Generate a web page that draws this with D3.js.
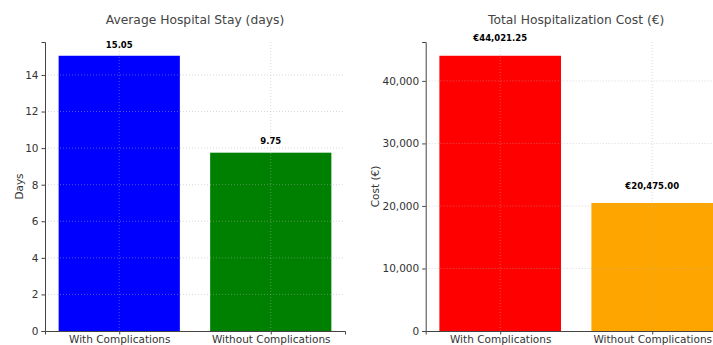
<!DOCTYPE html>
<html>
<head>
<meta charset="utf-8">
<script src="https://cdn.jsdelivr.net/npm/d3@7"></script>
<style>
  html, body { margin: 0; padding: 0; background: #fff; }
  svg { display: block; font-family: "DejaVu Sans", sans-serif; }
  svg text { font-family: "DejaVu Sans", sans-serif; }
  .tick text { fill: #333; }
</style>
</head>
<body>
<svg id="chart" width="713" height="345"></svg>
<script>
// Patient groups compared in both panels
const categories = ["With Complications", "Without Complications"];

// Average length of stay, days
const stayValues = [15.05, 9.75];
const stayColors = ["#0000ff", "#008000"];
const stayTicks = [0, 2, 4, 6, 8, 10, 12, 14];

// Total hospitalization cost, euros
const costValues = [44021.25, 20475.00];
const costColors = ["#ff0000", "#ffa500"];
const costTicks = [0, 10000, 20000, 30000, 40000];

const svg = d3.select("#chart");

function panel(opts) {
  const { left, width, top, bottom, values, colors, ticks, tickFmt, labelFmt,
          labelOffset, title, ylabel, ylabelX } = opts;
  const g = svg.append("g");

  // matplotlib-like margins: 5% on the value axis, bars of width 0.8
  const yMax = d3.max(values) * 1.05;
  const y = d3.scaleLinear().domain([0, yMax]).range([bottom, top]);
  const x = d3.scaleLinear().domain([-0.49, 1.49]).range([left, left + width]);
  const barW = x(0.4) - x(-0.4);

  // bars
  g.selectAll("rect.bar").data(values).join("rect")
    .attr("class", "bar")
    .attr("x", (d, i) => x(i) - barW / 2)
    .attr("width", barW)
    .attr("y", d => y(d))
    .attr("height", d => y(0) - y(d))
    .attr("fill", (d, i) => colors[i]);

  // dotted grid, drawn above the bars
  const grid = g.append("g").attr("stroke", "#b0b0b0").attr("stroke-opacity", 0.6)
    .attr("stroke-width", 0.8).attr("stroke-dasharray", "1,2");
  grid.selectAll("line.h").data(ticks.filter(t => t > 0)).join("line")
    .attr("x1", left).attr("x2", left + width)
    .attr("y1", d => y(d)).attr("y2", d => y(d));
  grid.selectAll("line.v").data(categories).join("line")
    .attr("x1", (d, i) => x(i)).attr("x2", (d, i) => x(i))
    .attr("y1", top).attr("y2", bottom);

  // y axis
  const yAxis = g.append("g").attr("transform", `translate(${left},0)`)
    .call(d3.axisLeft(y).tickValues(ticks).tickFormat(tickFmt).tickSizeOuter(0).tickSize(3.5).tickPadding(3))
    .attr("font-family", "DejaVu Sans").attr("font-size", 10.5);
  yAxis.select(".domain").attr("stroke", "#444");
  yAxis.selectAll(".tick line").attr("stroke", "#444");

  // x axis
  const xAxis = g.append("g").attr("transform", `translate(0,${bottom})`)
    .call(d3.axisBottom(x).tickValues([0, 1]).tickFormat(i => categories[i]).tickSizeOuter(0).tickSize(3.5).tickPadding(1))
    .attr("font-family", "DejaVu Sans").attr("font-size", 10.5);
  xAxis.select(".domain").attr("stroke", "#444");
  xAxis.selectAll(".tick line").attr("stroke", "#444");

  // value labels
  g.selectAll("text.val").data(values).join("text")
    .attr("class", "val")
    .attr("x", (d, i) => x(i))
    .attr("y", d => y(d + labelOffset))
    .attr("text-anchor", "middle")
    .attr("font-size", 8.5)
    .attr("font-weight", "bold")
    .attr("fill", "#000")
    .text(labelFmt);

  // title
  g.append("text")
    .attr("x", left + width / 2).attr("y", 24)
    .attr("text-anchor", "middle").attr("font-size", 12.3).attr("fill", "#444")
    .text(title);

  // y label
  g.append("text")
    .attr("transform", `translate(${ylabelX},${(top + bottom) / 2}) rotate(-90)`)
    .attr("text-anchor", "middle").attr("font-size", 10.5).attr("fill", "#333")
    .text(ylabel);
}

panel({
  left: 45, width: 300, top: 42, bottom: 331,
  values: stayValues, colors: stayColors, ticks: stayTicks,
  tickFmt: d3.format("d"), labelFmt: d => d.toFixed(2),
  labelOffset: 0.45, title: "Average Hospital Stay (days)", ylabel: "Days", ylabelX: 23
});

panel({
  left: 425.7, width: 301, top: 42, bottom: 331,
  values: costValues, colors: costColors, ticks: costTicks,
  tickFmt: d3.format(","), labelFmt: d => "€" + d3.format(",.2f")(d),
  labelOffset: 2300, title: "Total Hospitalization Cost (€)", ylabel: "Cost (€)", ylabelX: 379
});
</script>
</body>
</html>
